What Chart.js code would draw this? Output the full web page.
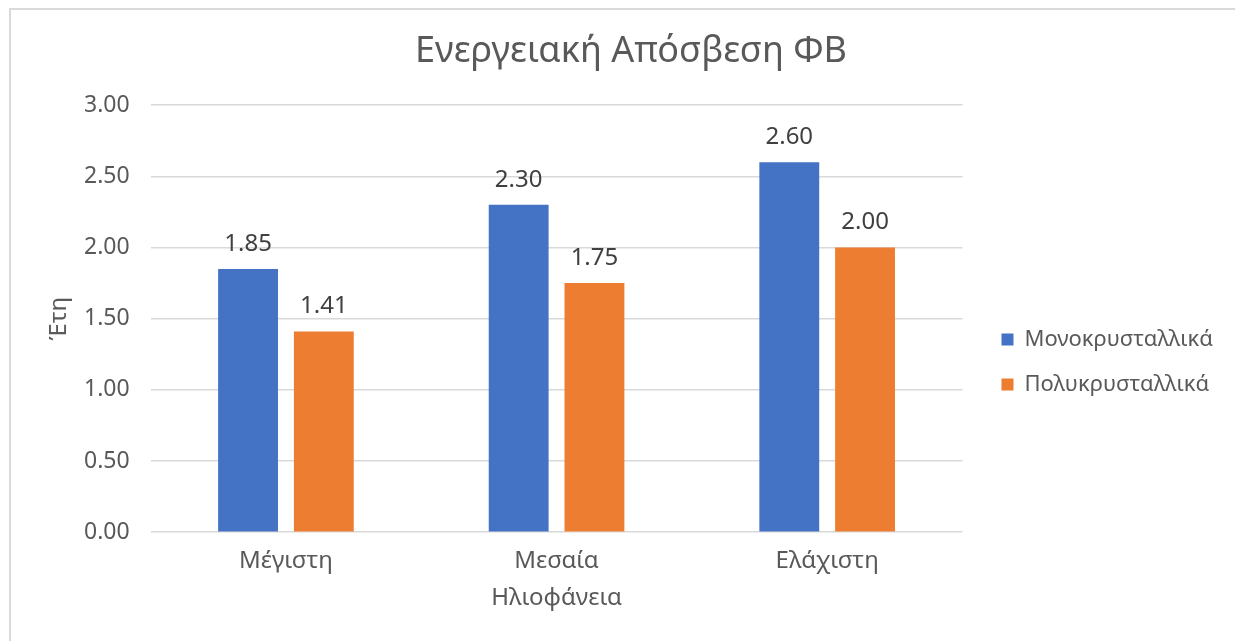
<!DOCTYPE html>
<html>
<head>
<meta charset="utf-8">
<script src="https://cdn.jsdelivr.net/npm/chart.js@4.4.0/dist/chart.umd.min.js"></script>
<style>
  html,body{margin:0;padding:0;background:#fff;}
  #wrap{position:absolute;left:0;top:0;width:1235px;height:641px;}
  #frame{position:absolute;left:9px;top:8px;width:1240px;height:650px;border-left:2px solid #d9d9d9;border-top:2px solid #d9d9d9;box-sizing:border-box;pointer-events:none;}
  canvas{position:absolute;left:0;top:0;}
</style>
</head>
<body>
<div id="wrap">
<canvas id="c" width="1235" height="641"></canvas>
<div id="frame"></div>
</div>
<script>
const categories = ["Μέγιστη", "Μεσαία", "Ελάχιστη"];
const seriesNames = ["Μονοκρυσταλλικά", "Πολυκρυσταλλικά"];
const monoValues = [1.85, 2.30, 2.60];
const polyValues = [1.41, 1.75, 2.00];
const yTicks = [0, 0.5, 1, 1.5, 2, 2.5, 3];

const FONT = "'Noto Sans', 'Open Sans', sans-serif";
const TXT = '#595959';

const dataLabels = {
  id: 'dataLabels',
  afterDatasetsDraw(chart) {
    const ctx = chart.ctx;
    ctx.save();
    ctx.font = '24px ' + FONT;
    ctx.fillStyle = '#404040';
    ctx.textAlign = 'center';
    ctx.textBaseline = 'middle';
    chart.data.datasets.forEach((ds, i) => {
      const meta = chart.getDatasetMeta(i);
      meta.data.forEach((bar, j) => {
        ctx.fillText(ds.data[j].toFixed(2), bar.x, bar.y - 25);
      });
    });
    ctx.restore();
  }
};

new Chart(document.getElementById('c'), {
  type: 'bar',
  data: {
    labels: categories,
    datasets: [
      { label: seriesNames[0], data: monoValues, backgroundColor: '#4472C4' },
      { label: seriesNames[1], data: polyValues, backgroundColor: '#ED7D31' }
    ]
  },
  options: {
    responsive: false,
    animation: false,
    devicePixelRatio: 1,
    layout: { padding: { left: 39, right: 12, top: 20, bottom: 28 } },
    categoryPercentage: 0.56,
    barPercentage: 0.79,
    plugins: {
      title: {
        display: true,
        text: 'Ενεργειακή Απόσβεση ΦΒ',
        color: TXT,
        font: { family: FONT, size: 36, weight: 'normal' },
        padding: { top: 10, bottom: 32 }
      },
      legend: {
        position: 'right',
        maxWidth: 260,
        title: { display: true, text: ' ', font: { family: FONT, size: 20 }, padding: { top: 33, bottom: 34 } },
        labels: {
          color: TXT,
          font: { family: FONT, size: 22 },
          boxWidth: 12,
          boxHeight: 12,
          padding: 23
        }
      },
      tooltip: { enabled: false }
    },
    scales: {
      x: {
        grid: { display: false },
        border: { display: false },
        ticks: { color: TXT, font: { family: FONT, size: 24, lineHeight: 1.0 }, padding: 9 },
        title: { display: true, text: 'Ηλιοφάνεια', color: TXT, font: { family: FONT, size: 24 }, padding: { top: 2, bottom: 0 } }
      },
      y: {
        min: 0, max: 3,
        afterBuildTicks(axis) { axis.ticks = yTicks.map(v => ({ value: v })); },
        grid: { color: '#d9d9d9', lineWidth: 1.5, drawTicks: false },
        border: { display: false },
        ticks: { color: TXT, font: { family: FONT, size: 23 }, padding: 21, callback: v => Number(v).toFixed(2) },
        title: { display: true, text: 'Έτη', color: TXT, font: { family: FONT, size: 24, lineHeight: 1.0 }, padding: { top: 8, bottom: -8 } }
      },
      spacer: {
        position: 'right',
        display: true,
        grid: { display: false, drawTicks: false },
        border: { display: false },
        ticks: { display: false },
        afterFit(s) { s.width = 16; }
      }
    }
  },
  plugins: [dataLabels]
});
</script>
</body>
</html>
